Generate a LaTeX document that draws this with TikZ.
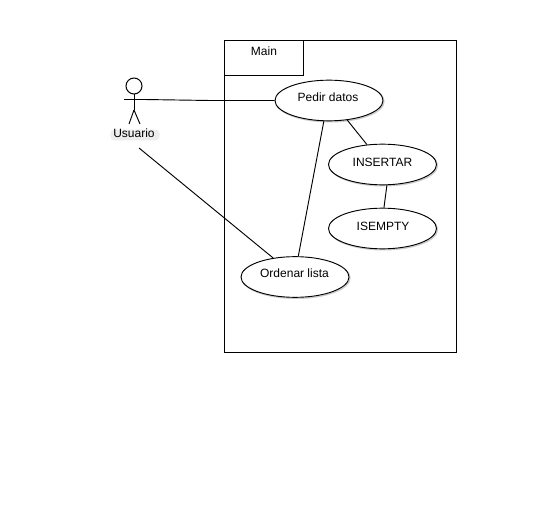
\documentclass[tikz,border=0pt]{standalone}
\usepackage{fontspec}
\setmainfont{Liberation Sans}
\usetikzlibrary{shapes.geometric}
\definecolor{halo}{gray}{0.93}
\definecolor{shade}{gray}{0.8}
\tikzset{
  uc/.style={draw=black,fill=white,ellipse,minimum width=81pt,minimum height=30.5pt,inner sep=0pt,line width=0.7pt},
  ucshadow/.style={draw=shade,line width=1pt,ellipse,minimum width=81pt,minimum height=30.5pt,inner sep=0pt},
  lnk/.style={draw=black,line width=0.7pt},
  lbl/.style={font=\fontsize{9}{11}\selectfont,inner sep=0pt},
  box/.style={draw=black,line width=0.75pt,inner sep=0pt},
}
\begin{document}
\begin{tikzpicture}[x=0.75pt,y=-0.75pt]
\useasboundingbox (0,0) rectangle (560,520);
\fill[white] (0,0) rectangle (560,520);
\node[box,minimum width=174pt,minimum height=234pt] (sys) at (340.5,196.5) {};
\node[box,minimum width=59.25pt,minimum height=26pt] (main) at (264,58) {};
\node[lbl] (mainl) at (264,51) {Main};
% soft shadows of the use cases
\node[ucshadow] (pds) at (330,101.5) {};
\node[ucshadow] (inss) at (383.5,165.5) {};
\node[ucshadow] (emps) at (383.5,229.5) {};
\node[ucshadow] (ords) at (296,278) {};
\node[uc] (pd) at (329,100.5) {};
\node[uc] (ins) at (382.5,164.5) {};
\node[uc] (emp) at (382.5,228.5) {};
\node[uc] (ord) at (295,277) {};
\node[lbl] (pdl) at (328,97.5) {Pedir datos};
\node[lbl] (insl) at (382.5,162) {INSERTAR};
\node[lbl] (empl) at (383,226) {ISEMPTY};
\node[lbl] (ordl) at (294.5,273.5) {Ordenar lista};
% actor
\node[draw=black,circle,minimum size=12pt,inner sep=0pt,line width=0.75pt] (head) at (134,86) {};
\coordinate (hip) at (134,110);
\coordinate (armL) at (124,99.5);
\coordinate (armR) at (144,99.5);
\coordinate (legL) at (129,124);
\coordinate (legR) at (140,124);
\coordinate (actor) at (139,148);
\coordinate (bend) at (210,100.5);
\draw[lnk] (head) -- (hip);
\draw[lnk] (armL) -- (armR);
\draw[lnk] (hip) -- (legL);
\draw[lnk] (hip) -- (legR);
\node[fill=halo,rounded corners=3pt,minimum width=37pt,minimum height=8pt,inner sep=0pt] (usrbg) at (135,135) {};
\node[lbl] (usr) at (134,133.5) {Usuario};
\draw[lnk] (armR) -- (bend) -- (pd.west);
\draw[lnk] (actor) -- (ord.139);
\draw[lnk] (pd.256) -- (ord.81.5);
\draw[lnk] (pd.313) -- (ins.128.5);
\draw[lnk] (ins.282) -- (emp.86);
\end{tikzpicture}
\end{document}
